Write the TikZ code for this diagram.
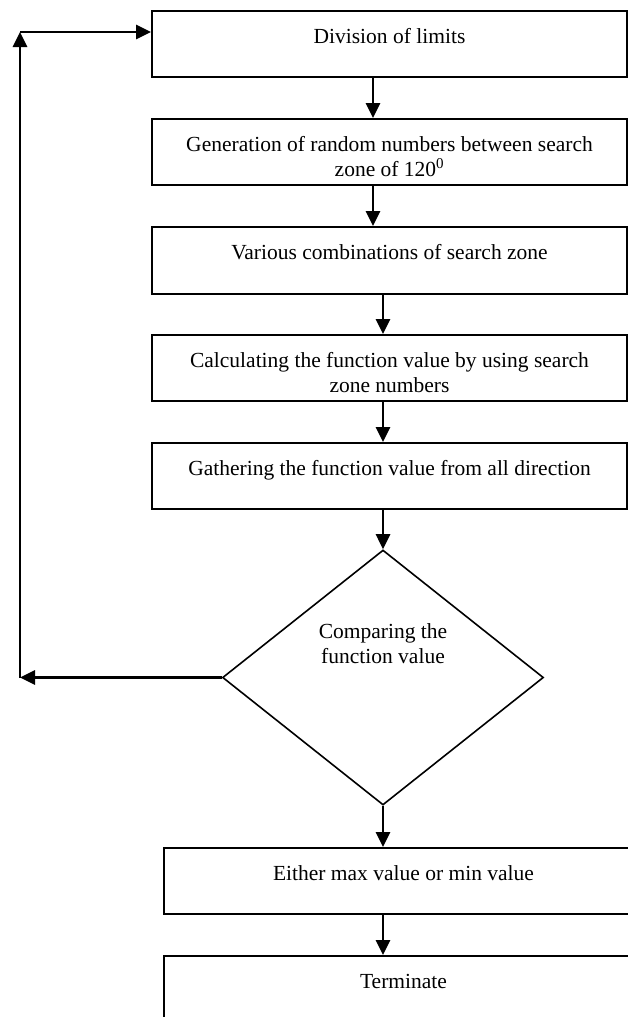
\documentclass[tikz,border=0pt]{standalone}
\usepackage{fontspec}
\setmainfont{Liberation Serif}
\usetikzlibrary{arrows.meta,shapes.geometric}
\newcommand\boxtext[3]{\parbox[c][#2pt][t]{#1pt}{\centering\fontsize{21.5}{25}\selectfont\rule{0pt}{32pt}#3}}
\begin{document}
\begin{tikzpicture}[x=1pt,y=-1pt,
  box/.style={draw, line width=2pt, inner sep=0pt, anchor=north west},
  decision/.style={draw, diamond, line width=1.6pt, inner sep=0pt, shape aspect=1.26,
    minimum width=321pt, minimum height=255pt},
  arr/.style={line width=2.7pt, -{Triangle[length=15pt,width=14pt]}}]
\useasboundingbox (0,0) rectangle (627,1017);
\node[box] (b1) at (151,10) {\boxtext{475}{66}{Division of limits}};
\node[box] (b2) at (151,118) {\boxtext{475}{66}{Generation of random numbers between search\\zone of 120\textsuperscript{0}}};
\node[box] (b3) at (151,226) {\boxtext{475}{67}{Various combinations of search zone}};
\node[box] (b4) at (151,334) {\boxtext{475}{66}{Calculating the function value by using search\\zone numbers}};
\node[box] (b5) at (151,442) {\boxtext{475}{66}{Gathering the function value from all direction}};
\node[decision] (d) at (383,677.5) {\parbox[c][110pt][t]{150pt}{\centering\fontsize{21.5}{25}\selectfont\rule{0pt}{16pt}Comparing the\\function value}};
\node[box] (b6) at (163,847) {\boxtext{479}{66}{Either max value or min value}};
\node[box] (b7) at (163,955) {\boxtext{479}{66}{Terminate}};
\coordinate (c1) at (373,0);
\coordinate (c2) at (383,0);
\coordinate (L) at (20,677.5);
\coordinate (T) at (20,32);
\draw[arr] (b1.south -| c1) -- (b2.north -| c1);
\draw[arr] (b2.south -| c1) -- (b3.north -| c1);
\draw[arr] (b3.south -| c2) -- (b4.north -| c2);
\draw[arr] (b4.south -| c2) -- (b5.north -| c2);
\draw[arr] (b5.south -| c2) -- (d.north);
\draw[arr] (d.south) -- (b6.north -| d.south);
\draw[arr] (b6.south -| c2) -- (b7.north -| c2);
\draw[arr] (d.west) -- (L);
\draw[arr] (L) -- (T);
\draw[arr] (T) -- (b1.west |- T);
\end{tikzpicture}
\end{document}
